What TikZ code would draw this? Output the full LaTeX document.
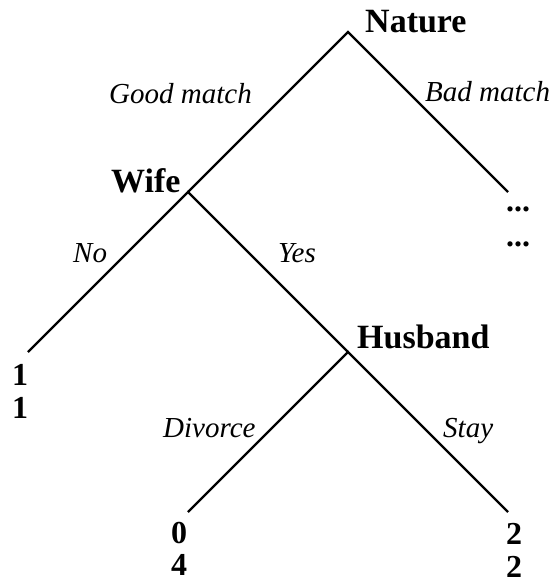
\documentclass[tikz,border=0pt]{standalone}
\usepackage{fontspec}
\setmainfont{Liberation Serif}
\begin{document}
\begin{tikzpicture}[x=1pt,y=-1pt,
  edge/.style={line width=2.4pt},
  player/.style={anchor=base west,inner sep=0pt,font=\fontsize{34}{40}\selectfont\bfseries},
  pay/.style={anchor=base west,inner sep=0pt,font=\fontsize{32}{38}\selectfont\bfseries},
  act/.style={anchor=base west,inner sep=0pt,font=\fontsize{29}{34}\selectfont\itshape}]
\useasboundingbox (0,0) rectangle (558,583);
\coordinate (n) at (348,32);
\coordinate (w) at (188,192);
\coordinate (h) at (348,352);
\coordinate (l1) at (28,352);
\coordinate (r1) at (508,192);
\coordinate (d) at (188,512);
\coordinate (s) at (508,512);
\draw[edge] (w) -- (n) -- (r1);
\draw[edge] (l1) -- (w) -- (h);
\draw[edge] (d) -- (h) -- (s);
\node[player] (tn) at (365,33) {Nature};
\node[player] (tw) at (111,192) {Wife};
\node[player] (th) at (357,348) {Husband};
\node[act] (gm) at (109,103) {Good match};
\node[act] (bm) at (425,102) {Bad match};
\node[act] (no) at (73,262) {No};
\node[act] (ye) at (278,262) {Yes};
\node[act] (dv) at (163,437) {Divorce};
\node[act] (st) at (443,437) {Stay};
\node[pay] (p1) at (12,385) {1};
\node[pay] (p2) at (12,418) {1};
\node[pay] (p3) at (171,543) {0};
\node[pay] (p4) at (171,575) {4};
\node[pay] (p5) at (506,544) {2};
\node[pay] (p6) at (506,577) {2};
\node[pay] (e1) at (506,211) {...};
\node[pay] (e2) at (506,246) {...};
\end{tikzpicture}
\end{document}
